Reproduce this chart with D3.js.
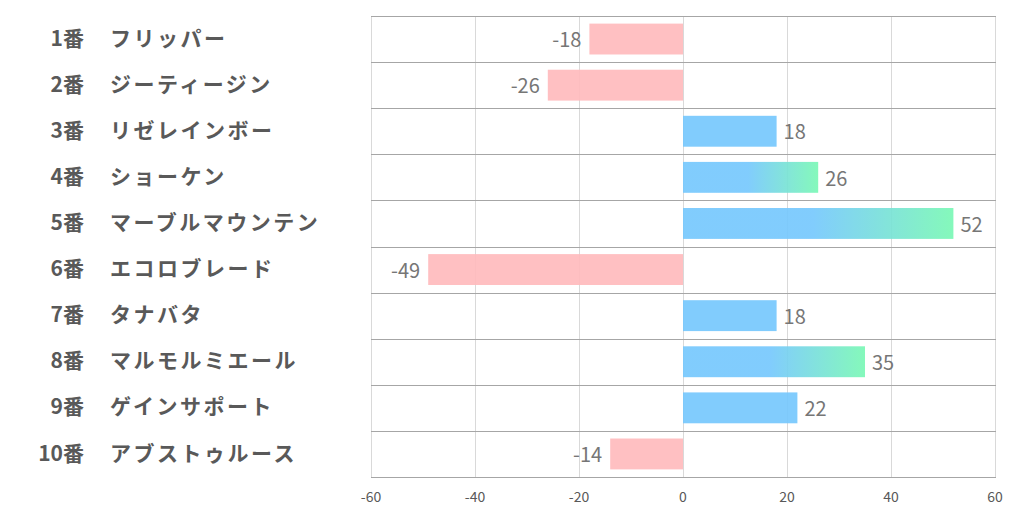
<!DOCTYPE html>
<html>
    <head>
        <style>
            body { margin: 0; background: #fff; }
            svg { display: block; }
        </style>
    </head>
    <body>
        <div id="chart"></div>

        <script src="https://cdnjs.cloudflare.com/ajax/libs/d3/7.8.5/d3.min.js"></script>

    <script>
        var nums = ["1番", "2番", "3番", "4番", "5番", "6番", "7番", "8番", "9番", "10番"];
        var names = ["フリッパー", "ジーティージン", "リゼレインボー", "ショーケン", "マーブルマウンテン",
                     "エコロブレード", "タナバタ", "マルモルミエール", "ゲインサポート", "アブストゥルース"];
        var values = [-18, -26, 18, 26, 52, -49, 18, 35, 22, -14];
        var ticks = [-60, -40, -20, 0, 20, 40, 60];
        var gradientFrom = 25; // bars longer than this fade to green

        (function() {
            var width = 1022,
                height = 522,
                left = 371, right = 995, top = 16, bottom = 477;

            var svg = d3.select("#chart")
                .append("svg")
                .attr("width", width)
                .attr("height", height)
                .style("font-family", "'Noto Sans CJK JP', 'Noto Sans', sans-serif");

            var x = d3.scaleLinear().domain([-60, 60]).range([left, right]);
            var y = d3.scaleBand().domain(d3.range(values.length)).range([top, bottom]).paddingInner(0.33).paddingOuter(0.165);
            var rows = d3.scaleBand().domain(d3.range(values.length)).range([top, bottom]);

            var grad = svg.append("defs").append("linearGradient")
                .attr("id", "posGrad")
                .attr("x1", "0%").attr("x2", "100%").attr("y1", "0%").attr("y2", "0%");
            grad.append("stop").attr("offset", "48%").attr("stop-color", "#76c8fd");
            grad.append("stop").attr("offset", "100%").attr("stop-color", "#7af8b5");

            // vertical grid
            svg.append("g").selectAll("line")
                .data(ticks)
                .enter().append("line")
                .attr("x1", function(d) { return x(d) + 0.5 })
                .attr("x2", function(d) { return x(d) + 0.5 })
                .attr("y1", top)
                .attr("y2", bottom)
                .attr("stroke", "#d9d9d9")
                .attr("stroke-width", 1);

            // horizontal row lines
            svg.append("g").selectAll("line")
                .data(d3.range(values.length + 1))
                .enter().append("line")
                .attr("x1", left)
                .attr("x2", right + 1)
                .attr("y1", function(i) { return Math.round(top + i * rows.bandwidth()) + 0.5 })
                .attr("y2", function(i) { return Math.round(top + i * rows.bandwidth()) + 0.5 })
                .attr("stroke", "#a6a6a6")
                .attr("stroke-width", 1);

            // bars
            svg.append("g").selectAll("rect")
                .data(values)
                .enter().append("rect")
                .attr("x", function(d) { return x(Math.min(0, d)) })
                .attr("width", function(d) { return Math.abs(x(d) - x(0)) })
                .attr("y", function(d, i) { return y(i) })
                .attr("height", y.bandwidth())
                .attr("fill", function(d) {
                    if (d < 0) return "#ffbbbd";
                    return d > gradientFrom ? "url(#posGrad)" : "#76c8fd";
                })
                .attr("opacity", 0.92);

            // value labels
            svg.append("g").selectAll("text")
                .data(values)
                .enter().append("text")
                .attr("x", function(d) { return d < 0 ? x(d) - 8 : x(d) + 7 })
                .attr("y", function(d, i) { return y(i) + y.bandwidth() / 2 + 1 })
                .attr("dy", "0.36em")
                .attr("text-anchor", function(d) { return d < 0 ? "end" : "start" })
                .attr("font-size", 20)
                .attr("fill", "#767676")
                .text(function(d) { return d });

            // category labels
            var cat = svg.append("g");
            cat.selectAll("text.num")
                .data(nums)
                .enter().append("text")
                .attr("class", "num")
                .attr("x", 84)
                .attr("y", function(d, i) { return rows(i) + rows.bandwidth() / 2 - 1 })
                .attr("dy", "0.36em")
                .attr("text-anchor", "end")
                .attr("font-size", 21)
                .attr("font-weight", "bold")
                .attr("fill", "#595959")
                .text(function(d) { return d });
            cat.selectAll("text.name")
                .data(names)
                .enter().append("text")
                .attr("class", "name")
                .attr("x", 110)
                .attr("y", function(d, i) { return rows(i) + rows.bandwidth() / 2 - 1 })
                .attr("dy", "0.36em")
                .attr("font-size", 21)
                .attr("letter-spacing", 2.5)
                .attr("font-weight", "bold")
                .attr("fill", "#595959")
                .text(function(d) { return d });

            // x axis tick labels
            svg.append("g").selectAll("text")
                .data(ticks)
                .enter().append("text")
                .attr("x", function(d) { return x(d) })
                .attr("y", 497)
                .attr("dy", "0.36em")
                .attr("text-anchor", "middle")
                .attr("font-size", 14)
                .attr("fill", "#595959")
                .text(function(d) { return d });
        })();
    </script>
    </body>
</html>
